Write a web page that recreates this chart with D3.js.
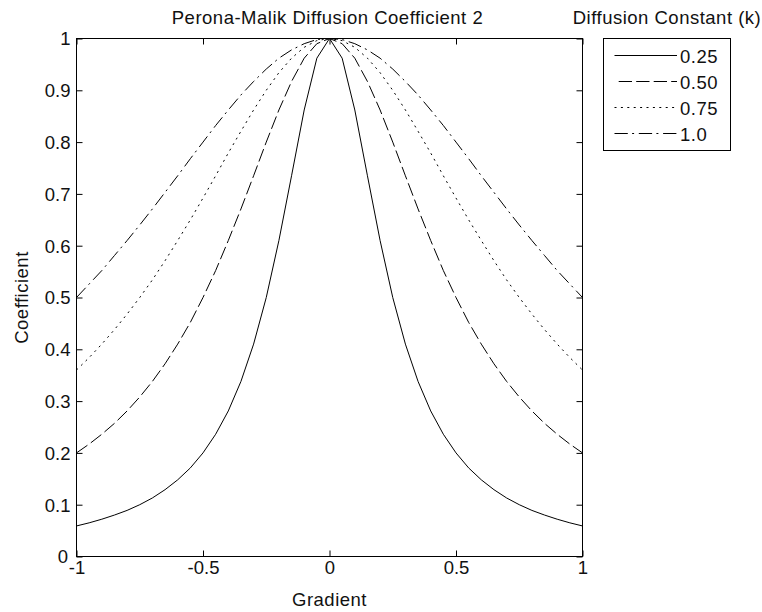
<!DOCTYPE html>
<html>
<head>
<meta charset="utf-8">
<script src="https://cdn.jsdelivr.net/npm/d3@7"></script>
<style>
  html, body { margin: 0; padding: 0; background: #fff; }
  svg { display: block; }
  text { font-family: "Liberation Sans", Arial, sans-serif; fill: #111; letter-spacing: 0.5px; }
  .tick text { letter-spacing: 0; }
</style>
</head>
<body>
<svg id="chart" width="762" height="612"></svg>
<script>
// Gradient samples along the x axis
const gradient = [-1,-0.95,-0.9,-0.85,-0.8,-0.75,-0.7,-0.65,-0.6,-0.55,-0.5,-0.45,-0.4,-0.35,-0.3,-0.25,-0.2,-0.15,-0.1,-0.05,0,
  0.05,0.1,0.15,0.2,0.25,0.3,0.35,0.4,0.45,0.5,0.55,0.6,0.65,0.7,0.75,0.8,0.85,0.9,0.95,1];

// Diffusion coefficient for each constant k
const coefK025 = [0.059,0.065,0.072,0.080,0.089,0.100,0.113,0.129,0.148,0.171,0.200,0.236,0.281,0.338,0.410,0.500,0.610,0.735,0.862,0.962,1.000,
  0.962,0.862,0.735,0.610,0.500,0.410,0.338,0.281,0.236,0.200,0.171,0.148,0.129,0.113,0.100,0.089,0.080,0.072,0.065,0.059];
const coefK050 = [0.200,0.217,0.236,0.257,0.281,0.308,0.338,0.372,0.410,0.452,0.500,0.552,0.610,0.671,0.735,0.800,0.862,0.917,0.962,0.990,1.000,
  0.990,0.962,0.917,0.862,0.800,0.735,0.671,0.610,0.552,0.500,0.452,0.410,0.372,0.338,0.308,0.281,0.257,0.236,0.217,0.200];
const coefK075 = [0.360,0.384,0.410,0.438,0.468,0.500,0.534,0.571,0.610,0.650,0.692,0.735,0.779,0.821,0.862,0.900,0.934,0.962,0.983,0.996,1.000,
  0.996,0.983,0.962,0.934,0.900,0.862,0.821,0.779,0.735,0.692,0.650,0.610,0.571,0.534,0.500,0.468,0.438,0.410,0.384,0.360];
const coefK100 = [0.500,0.526,0.552,0.581,0.610,0.640,0.671,0.703,0.735,0.768,0.800,0.832,0.862,0.891,0.917,0.941,0.962,0.978,0.990,0.998,1.000,
  0.998,0.990,0.978,0.962,0.941,0.917,0.891,0.862,0.832,0.800,0.768,0.735,0.703,0.671,0.640,0.610,0.581,0.552,0.526,0.500];

const seriesLabels = ["0.25", "0.50", "0.75", "1.0"];

// Tick values and their labels
const xTickValues = [-1, -0.5, 0, 0.5, 1];
const xTickLabels = ["-1", "-0.5", "0", "0.5", "1"];
const yTickValues = [0, 0.1, 0.2, 0.3, 0.4, 0.5, 0.6, 0.7, 0.8, 0.9, 1];
const yTickLabels = ["0", "0.1", "0.2", "0.3", "0.4", "0.5", "0.6", "0.7", "0.8", "0.9", "1"];

// Layout
const plot = { left: 76.5, right: 582.5, top: 38.5, bottom: 556.5 };
const fontSize = "18.5px";
const tickLen = 6;
const dashStyles = [null, "13.3,4.2", "2,4.4", "13.3,4.3,2,4.7"];

const svg = d3.select("#chart");
svg.append("rect").attr("width", 762).attr("height", 612).attr("fill", "#fff");

const x = d3.scaleLinear().domain([-1, 1]).range([plot.left, plot.right]);
const y = d3.scaleLinear().domain([0, 1]).range([plot.bottom, plot.top]);

// Axes: ticks point inward on all four sides, labels on bottom and left
const fmtX = d => xTickLabels[xTickValues.indexOf(d)];
const fmtY = d => yTickLabels[yTickValues.indexOf(d)];

const gx = svg.append("g").attr("transform", `translate(0,${plot.bottom})`)
  .call(d3.axisBottom(x).tickValues(xTickValues).tickFormat(fmtX)
    .tickSizeInner(-tickLen).tickSizeOuter(0).tickPadding(0));
const gxTop = svg.append("g").attr("transform", `translate(0,${plot.top})`)
  .call(d3.axisTop(x).tickValues(xTickValues).tickFormat("")
    .tickSizeInner(-tickLen).tickSizeOuter(0));
const gy = svg.append("g").attr("transform", `translate(${plot.left},0)`)
  .call(d3.axisLeft(y).tickValues(yTickValues).tickFormat(fmtY)
    .tickSizeInner(-tickLen).tickSizeOuter(0).tickPadding(6));
const gyRight = svg.append("g").attr("transform", `translate(${plot.right},0)`)
  .call(d3.axisRight(y).tickValues(yTickValues).tickFormat("")
    .tickSizeInner(-tickLen).tickSizeOuter(0));

[gx, gxTop, gy, gyRight].forEach(g => {
  g.select(".domain").remove();
  g.selectAll("line").attr("stroke", "#000").attr("stroke-width", 1);
  g.selectAll("text").style("font-family", '"Liberation Sans", Arial, sans-serif')
    .style("font-size", fontSize).attr("fill", "#111");
});
gx.selectAll("text").attr("y", 17.5).attr("dy", null);
gy.selectAll("text").attr("dy", "0.35em");
// the origin label sits a little further left, clear of the "-1" below it
gy.selectAll("text").filter(d => d === 0).attr("x", -8.5);

// Axes box
svg.append("rect")
  .attr("x", plot.left).attr("y", plot.top)
  .attr("width", plot.right - plot.left).attr("height", plot.bottom - plot.top)
  .attr("fill", "none").attr("stroke", "#000").attr("stroke-width", 1);

// Curves
const allSeries = [coefK025, coefK050, coefK075, coefK100];
const line = d3.line().x((d, i) => x(gradient[i])).y(d => y(d));
svg.append("g").selectAll("path").data(allSeries).join("path")
  .attr("d", d => line(d))
  .attr("fill", "none")
  .attr("stroke", "#000")
  .attr("stroke-width", 1)
  .attr("stroke-dasharray", (d, i) => dashStyles[i]);

// Titles
svg.append("text").attr("x", (plot.left + plot.right) / 2 - 2).attr("y", 24)
  .attr("text-anchor", "middle").style("font-size", fontSize)
  .text("Perona-Malik Diffusion Coefficient 2");
svg.append("text").attr("x", (plot.left + plot.right) / 2).attr("y", 606)
  .attr("text-anchor", "middle").style("font-size", fontSize)
  .text("Gradient");
svg.append("text")
  .attr("transform", `translate(28,${(plot.top + plot.bottom) / 2}) rotate(-90)`)
  .attr("text-anchor", "middle").style("font-size", fontSize)
  .text("Coefficient");

// Legend
const legend = { left: 603.5, right: 730.5, top: 38.5, bottom: 150.5 };
svg.append("text").attr("x", (legend.left + legend.right) / 2).attr("y", 24)
  .attr("text-anchor", "middle").style("font-size", fontSize)
  .text("Diffusion Constant (k)");
svg.append("rect")
  .attr("x", legend.left).attr("y", legend.top)
  .attr("width", legend.right - legend.left).attr("height", legend.bottom - legend.top)
  .attr("fill", "#fff").attr("stroke", "#000").attr("stroke-width", 1);

const rowY = d3.scaleLinear().domain([0, 3]).range([55.5, 133.5]);
const rows = svg.append("g").selectAll("g").data(seriesLabels).join("g")
  .attr("transform", (d, i) => `translate(0,${rowY(i)})`);
rows.append("line")
  .attr("x1", 614.5).attr("x2", 677).attr("y1", 0).attr("y2", 0)
  .attr("stroke", "#000").attr("stroke-width", 1)
  .attr("stroke-dasharray", (d, i) => dashStyles[i])
  .attr("stroke-dashoffset", (d, i) => i === 1 ? 13.3 : 0);
rows.append("text")
  .attr("x", 680).attr("y", 7.5)
  .style("font-size", fontSize)
  .text(d => d);
</script>
</body>
</html>
